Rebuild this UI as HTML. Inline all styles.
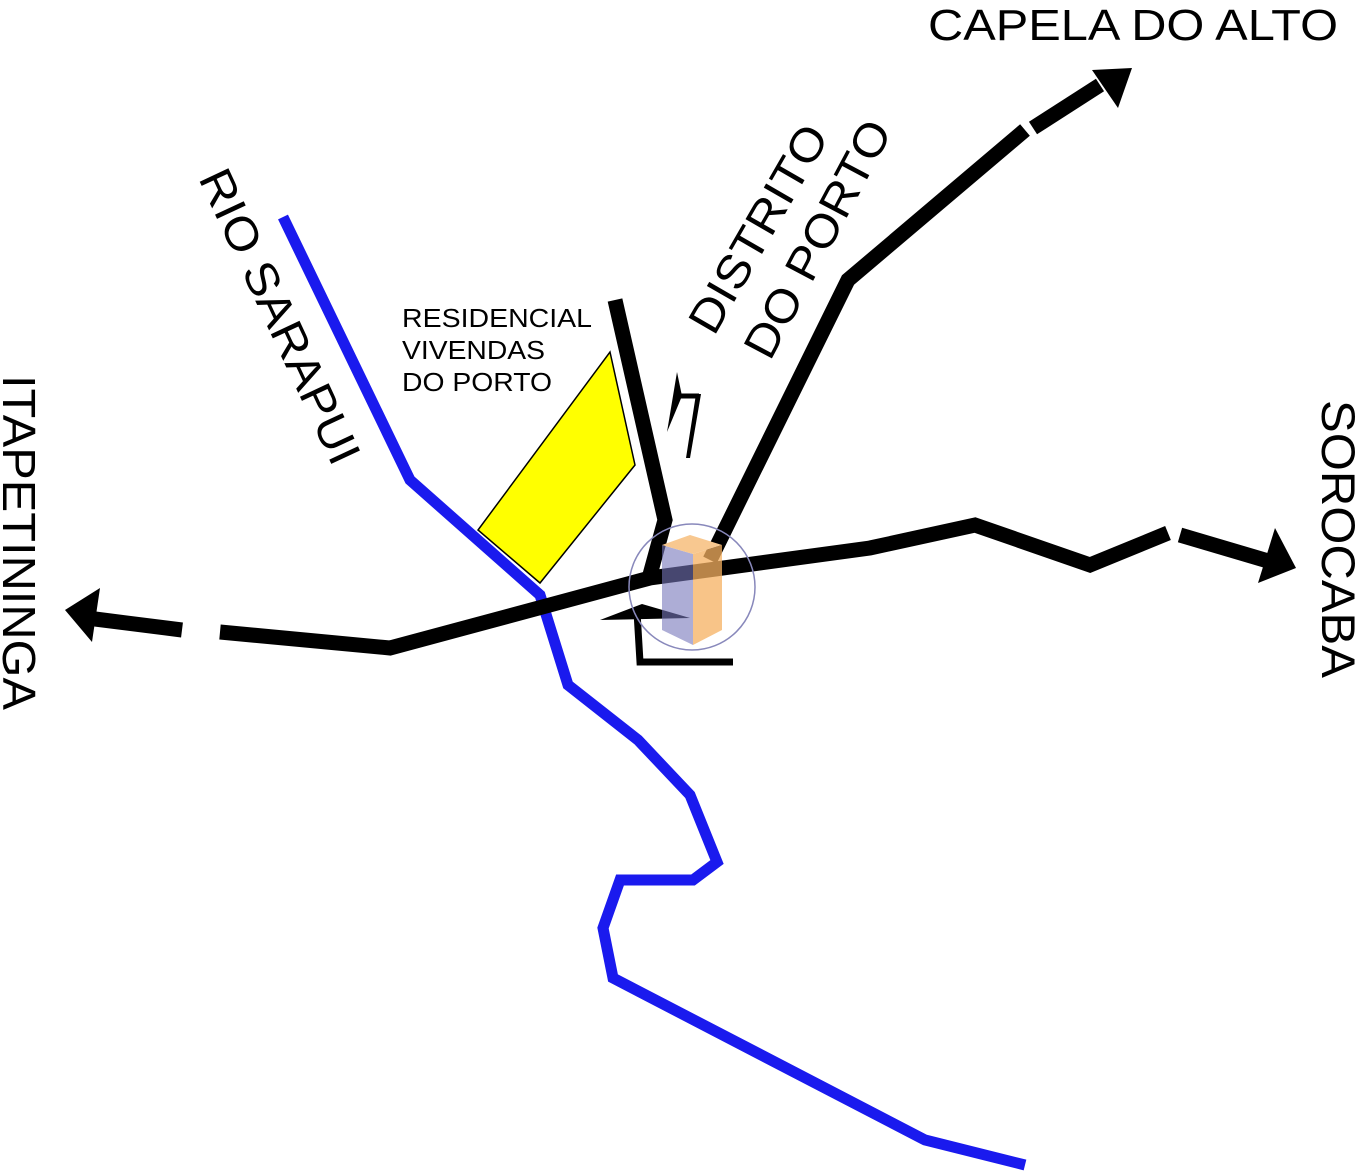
<!DOCTYPE html>
<html><head><meta charset="utf-8"><style>
html,body{margin:0;padding:0;background:#fff;}
svg{display:block;}
text{font-family:"Liberation Sans",sans-serif;fill:#000;}
</style></head><body>
<svg width="1366" height="1174" viewBox="0 0 1366 1174" xmlns="http://www.w3.org/2000/svg">
<rect width="1366" height="1174" fill="#fff"/>
<polyline points="283,217 410,480 540,595 568,685 638,740 690,795 717,862 693,880 620,880 603,928 613,978 925,1140 1025,1165" fill="none" stroke="#1a1aee" stroke-width="11" stroke-linejoin="miter"/>
<polygon points="610,352 635,465 540,583 478,530" fill="#ffff00" stroke="#000" stroke-width="1.5"/>
<g fill="none" stroke="#000" stroke-width="15" stroke-linejoin="miter">
<polyline points="95,619 182,630"/>
<polyline points="220,632 390,648 650,578 870,548 975,525 1090,565 1168,533"/>
<polyline points="1180,535 1268,561"/>
<polyline points="710,560 848,280 1025,130"/>
<polyline points="1033,128 1100,85"/>
<polyline points="615,300 665,520 648,582"/>
</g>
<polygon points="65,610 100,588 92,642" fill="#000"/>
<polygon points="1296,568 1258,583 1275,528" fill="#000"/>
<polygon points="1132,68 1092,70 1118,108" fill="#000"/>
<!-- small turn arrow -->
<polygon points="677,372 667,432 682,396" fill="#000"/>
<polyline points="676,396 699,396" fill="none" stroke="#000" stroke-width="5"/>
<polygon points="696,394 701,394 690,458 686,458" fill="#000"/>
<!-- bottom L arrow -->
<polyline points="733,662 640,662 637,612" fill="none" stroke="#000" stroke-width="7"/>
<polygon points="600,620 642,604 690,618" fill="#000"/>
<!-- building icon -->
<circle cx="692" cy="587" r="63" fill="none" stroke="#8888bb" stroke-width="1.5"/>
<polygon points="662,545 693,554 693,645 662,630" fill="#7777bb" opacity="0.6"/>
<polygon points="693,554 722,545 722,630 693,645" fill="#f5b060" opacity="0.75"/>
<polygon points="662,545 690,535 722,545 693,554" fill="#f8c890"/>
<text x="928" y="40" font-size="44" textLength="410" lengthAdjust="spacingAndGlyphs">CAPELA DO ALTO</text>
<text x="402" y="327" font-size="26" textLength="190" lengthAdjust="spacingAndGlyphs">RESIDENCIAL</text>
<text x="402" y="359" font-size="26" textLength="143" lengthAdjust="spacingAndGlyphs">VIVENDAS</text>
<text x="402" y="391" font-size="26" textLength="150" lengthAdjust="spacingAndGlyphs">DO PORTO</text>
<text transform="translate(714,337) rotate(-60)" font-size="46" textLength="232" lengthAdjust="spacingAndGlyphs">DISTRITO</text>
<text transform="translate(770,362) rotate(-62)" font-size="46" textLength="262" lengthAdjust="spacingAndGlyphs">DO PORTO</text>
<text transform="translate(198,178) rotate(65)" font-size="46" textLength="320" lengthAdjust="spacingAndGlyphs">RIO SARAPUI</text>
<text transform="translate(3,375) rotate(90)" font-size="46" textLength="335" lengthAdjust="spacingAndGlyphs">ITAPETININGA</text>
<text transform="translate(1322,400) rotate(90)" font-size="47" textLength="278" lengthAdjust="spacingAndGlyphs">SOROCABA</text>
</svg>
</body></html>
